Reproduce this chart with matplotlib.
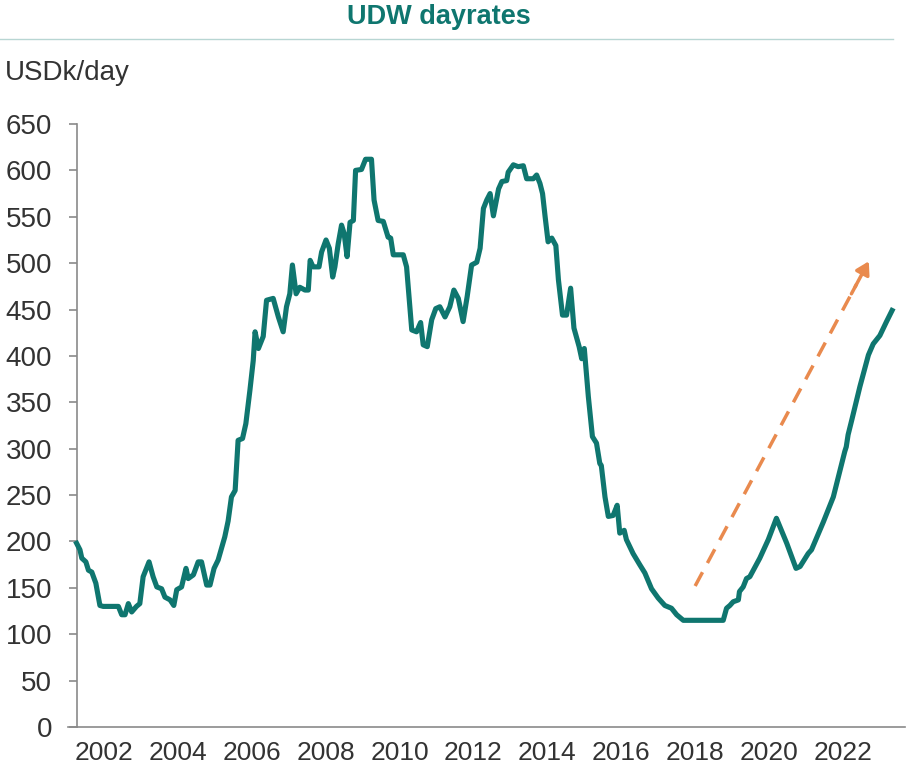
import matplotlib
matplotlib.use("Agg")
import matplotlib.pyplot as plt
from matplotlib import font_manager
from matplotlib.lines import Line2D

# ---------------- data ----------------
years = [2001.26, 2001.35, 2001.40, 2001.51, 2001.58, 2001.67, 2001.78, 2001.89, 2001.98, 2002.39,
         2002.48, 2002.57, 2002.66, 2002.75, 2002.88, 2002.97, 2003.06, 2003.22, 2003.33, 2003.43,
         2003.56, 2003.65, 2003.79, 2003.89, 2003.97, 2004.10, 2004.22, 2004.28, 2004.42, 2004.55,
         2004.64, 2004.78, 2004.87, 2004.98, 2005.09, 2005.19, 2005.27, 2005.36, 2005.45, 2005.55,
         2005.63, 2005.75, 2005.84, 2005.95, 2006.04, 2006.09, 2006.18, 2006.31, 2006.40, 2006.58,
         2006.72, 2006.85, 2006.94, 2007.03, 2007.10, 2007.20, 2007.30, 2007.44, 2007.53, 2007.58,
         2007.66, 2007.82, 2007.89, 2008.01, 2008.10, 2008.19, 2008.25, 2008.34, 2008.43, 2008.50,
         2008.58, 2008.66, 2008.75, 2008.81, 2008.97, 2009.08, 2009.24, 2009.31, 2009.42, 2009.56,
         2009.69, 2009.76, 2009.83, 2010.10, 2010.19, 2010.33, 2010.46, 2010.57, 2010.64, 2010.75,
         2010.87, 2010.98, 2011.09, 2011.23, 2011.36, 2011.47, 2011.59, 2011.72, 2011.83, 2011.95,
         2012.09, 2012.18, 2012.27, 2012.36, 2012.45, 2012.54, 2012.68, 2012.77, 2012.90, 2012.94,
         2013.08, 2013.21, 2013.35, 2013.44, 2013.62, 2013.71, 2013.80, 2013.87, 2013.94, 2014.02,
         2014.12, 2014.23, 2014.30, 2014.41, 2014.52, 2014.63, 2014.72, 2014.86, 2014.93, 2015.00,
         2015.11, 2015.22, 2015.33, 2015.42, 2015.46, 2015.56, 2015.65, 2015.78, 2015.89, 2015.96,
         2016.08, 2016.14, 2016.32, 2016.50, 2016.64, 2016.82, 2017.00, 2017.18, 2017.36, 2017.50,
         2017.68, 2018.12, 2018.76, 2018.85, 2018.94, 2019.03, 2019.17, 2019.20, 2019.30, 2019.39,
         2019.48, 2019.75, 2019.98, 2020.20, 2020.48, 2020.73, 2020.84, 2021.06, 2021.15, 2021.47,
         2021.74, 2022.05, 2022.09, 2022.14, 2022.24, 2022.46, 2022.69, 2022.82, 2023.00, 2023.18,
         2023.33]
dayrates = [198, 191, 182, 178, 169, 167, 155, 131, 130, 130,
            121, 121, 133, 124, 130, 133, 162, 178, 162, 151,
            149, 140, 137, 131, 148, 151, 171, 160, 164, 178,
            178, 153, 153, 171, 180, 194, 205, 222, 248, 255,
            309, 311, 327, 363, 395, 426, 408, 421, 460, 462,
            442, 426, 453, 467, 498, 467, 474, 471, 471, 503,
            496, 496, 512, 525, 516, 485, 496, 521, 541, 532,
            507, 544, 546, 600, 601, 612, 612, 568, 546, 545,
            528, 527, 509, 509, 496, 428, 426, 436, 412, 410,
            439, 451, 453, 442, 453, 471, 462, 437, 464, 498,
            501, 516, 559, 568, 575, 551, 580, 588, 589, 598,
            606, 604, 605, 591, 591, 595, 586, 575, 550, 523,
            527, 519, 482, 444, 444, 473, 430, 410, 397, 408,
            356, 313, 306, 284, 282, 248, 227, 228, 239, 209,
            212, 202, 187, 175, 166, 149, 139, 131, 128, 121,
            115, 115, 115, 128, 131, 135, 137, 146, 151, 160,
            162, 182, 202, 225, 198, 171, 173, 187, 191, 221,
            248, 297, 302, 315, 331, 367, 401, 413, 422, 437,
            449]

# trend arrow (start, end)
arrow_x = [2018.0, 2022.7]
arrow_y = [152, 502]

xtick_years = [2002, 2004, 2006, 2008, 2010, 2012, 2014, 2016, 2018, 2020, 2022]
xtick_labels = [str(y) for y in xtick_years]
yticks = list(range(0, 651, 50))

title = "UDW dayrates"
unit_label = "USDk/day"

# ---------------- style ----------------
TEAL = "#0F766F"
ORANGE = "#E98A4E"
TEXT = "#333333"
SPINE = "#8A8A8A"

names = {f.name for f in font_manager.fontManager.ttflist}
base_font = "Liberation Sans" if "Liberation Sans" in names else "DejaVu Sans"
narrow_font = "Liberation Sans Narrow" if "Liberation Sans Narrow" in names else base_font

W, H = 923, 781
fig = plt.figure(figsize=(W / 100, H / 100), dpi=100)
left, right, bottom, top = 77 / W, 905 / W, 1 - 727 / H, 1 - 124 / H
ax = fig.add_axes([left, bottom, right - left, top - bottom])

ax.plot(years, dayrates, color=TEAL, lw=3.7, solid_joinstyle="round", zorder=3, clip_on=False)

# dashed arrow
dx = arrow_x[1] - arrow_x[0]
dy = arrow_y[1] - arrow_y[0]
f = 0.93
ax.plot([arrow_x[0], arrow_x[0] + f * dx], [arrow_y[0], arrow_y[0] + f * dy],
        color=ORANGE, lw=2.5, linestyle=(0, (4.5, 3)), dash_capstyle="butt", zorder=2)
ax.annotate("", xy=(arrow_x[1], arrow_y[1]),
            xytext=(arrow_x[0] + 0.9 * dx, arrow_y[0] + 0.9 * dy),
            arrowprops=dict(arrowstyle="-|>,head_length=0.75,head_width=0.45",
                            color=ORANGE, lw=2.5, shrinkA=0, shrinkB=0))

ax.set_xlim(2001.27, 2023.68)
ax.set_ylim(0, 650)
ax.set_yticks(yticks)
ax.set_xticks(xtick_years)
ax.set_xticklabels(xtick_labels)

for s in ["top", "right"]:
    ax.spines[s].set_visible(False)
ax.spines["left"].set_color(SPINE)
ax.spines["bottom"].set_color(SPINE)
ax.spines["left"].set_linewidth(1.2)
ax.spines["bottom"].set_linewidth(1.2)

ax.tick_params(axis="y", direction="out", length=6, width=1.2, color=SPINE, pad=12,
               labelsize=20, labelcolor=TEXT)
ax.tick_params(axis="x", length=0, pad=10, labelsize=19, labelcolor=TEXT)
for lab in ax.get_yticklabels():
    lab.set_fontfamily(base_font)
for lab in ax.get_xticklabels():
    lab.set_fontfamily(narrow_font)

# bottom spine extension to the left
fig.add_artist(Line2D([68 / W, left], [bottom, bottom], color=SPINE, lw=1.2))

# title + separator
fig.text(439 / W, 1 - 17 / H, title, ha="center", va="center", fontsize=19.5,
         fontweight="bold", color=TEAL, family=narrow_font)
fig.add_artist(Line2D([0, 893 / W], [1 - 39 / H, 1 - 39 / H], color="#B8D6D3", lw=1.0))
fig.text(5 / W, 1 - 73 / H, unit_label, ha="left", va="center", fontsize=20,
         color=TEXT, family=base_font)

fig.savefig("out.png", dpi=100)
